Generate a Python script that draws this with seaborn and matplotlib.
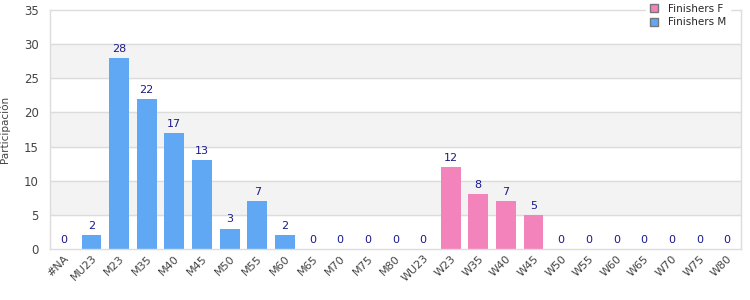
import pandas as pd
import seaborn as sns
import matplotlib.pyplot as plt
from matplotlib.patches import Patch

# categories and counts
categories = ["#NA", "MU23", "M23", "M35", "M40", "M45", "M50", "M55", "M60",
              "M65", "M70", "M75", "M80", "WU23", "W23", "W35", "W40", "W45",
              "W50", "W55", "W60", "W65", "W70", "W75", "W80"]
finishers = [0, 2, 28, 22, 17, 13, 3, 7, 2, 0, 0, 0, 0,
             0, 12, 8, 7, 5, 0, 0, 0, 0, 0, 0, 0]
series = ["Finishers M"] * 13 + ["Finishers F"] * 12

df = pd.DataFrame({"cat": categories, "val": finishers, "serie": series})

colors = {"Finishers M": "#60a8f4", "Finishers F": "#f383bb"}

sns.set_style("white")
plt.rcParams["font.family"] = ["DejaVu Sans"]

fig = plt.figure(figsize=(7.5, 3), dpi=100)
ax = fig.add_axes([0.0667, 0.17, 0.921, 0.797])

# alternating bands
for lo in (5, 15, 25):
    ax.axhspan(lo, lo + 5, color="#f3f3f3", zorder=0)
for y in range(5, 35, 5):
    ax.axhline(y, color="#dcdcdc", lw=1, zorder=0.5)

sns.barplot(data=df, x="cat", y="val", hue="serie", palette=colors,
            dodge=False, width=0.72, saturation=1, linewidth=0,
            legend=False, ax=ax, zorder=2)

# value labels
for i, v in enumerate(finishers):
    ax.text(i, v + 0.6, str(v), ha="center", va="bottom",
            fontsize=8, color="#1a1a8c")

ax.set_ylim(0, 35)
ax.set_xlim(-0.5, len(categories) - 0.5)
ax.set_yticks(range(0, 36, 5))
ax.set_xlabel("")
ax.set_ylabel("Participación", fontsize=7.5, color="#444444", labelpad=10)
ax.tick_params(axis="y", length=0, labelsize=8.5, labelcolor="#444444", pad=8)
ax.tick_params(axis="x", length=0, labelsize=8, labelcolor="#444444", pad=3)
plt.setp(ax.get_xticklabels(), rotation=45, ha="right", rotation_mode="anchor")

for s in ax.spines.values():
    s.set_color("#dcdcdc")
    s.set_linewidth(1)

handles = [Patch(facecolor=colors["Finishers F"], edgecolor="#777777", label="Finishers F"),
           Patch(facecolor=colors["Finishers M"], edgecolor="#777777", label="Finishers M")]
leg = fig.legend(handles=handles, loc="upper left", bbox_to_anchor=(0.855, 1.015),
                 frameon=True, fontsize=7.5, handlelength=0.8, handleheight=0.8,
                 handletextpad=1.0, labelspacing=0.35, borderpad=0.3)
leg.get_frame().set_edgecolor("white")
leg.get_frame().set_facecolor("white")
leg.get_frame().set_alpha(1)

fig.savefig("out.png", dpi=100)
